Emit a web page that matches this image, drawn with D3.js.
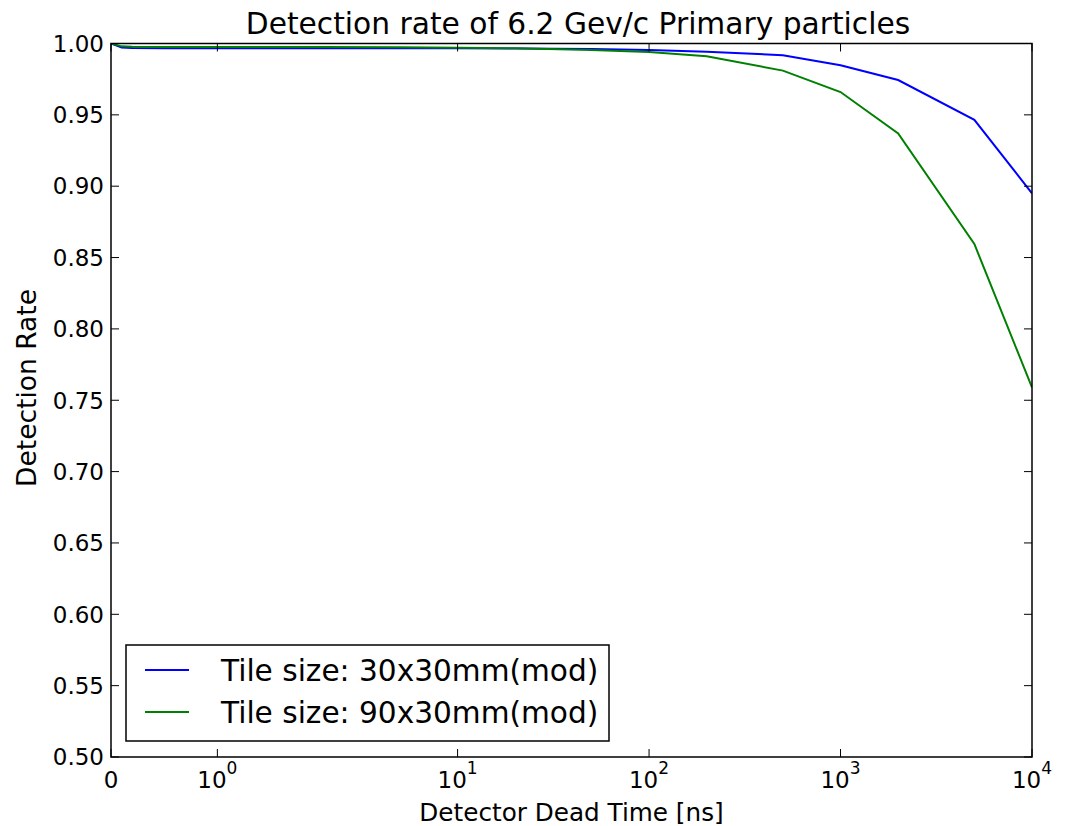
<!DOCTYPE html>
<html>
<head>
<meta charset="utf-8">
<script src="https://cdn.jsdelivr.net/npm/d3@7"></script>
<style>
  body { margin: 0; background: #fff; }
  text { font-family: "DejaVu Sans", sans-serif; fill: #000; }
</style>
</head>
<body>
<svg id="chart"></svg>
<script>
const width = 1067;
const height = 826;
const margin = { top: 43.5, right: 35, bottom: 69, left: 111 };

// dead time values [ns]
const deadTimes = [0, 0.1, 0.2, 0.5, 1, 2, 5, 10, 20, 50, 100, 200, 500, 1000, 2000, 5000, 10000];
const rate30x30 = [1.0, 0.9972, 0.9968, 0.9967, 0.9967, 0.9967, 0.9967, 0.9966, 0.9965, 0.9962, 0.9955, 0.9942, 0.9918, 0.9848, 0.9744, 0.9465, 0.895];
const rate90x30 = [1.0, 0.998, 0.9977, 0.9976, 0.9975, 0.9975, 0.9974, 0.9971, 0.9966, 0.9955, 0.9940, 0.9910, 0.9810, 0.9660, 0.9370, 0.8595, 0.759];
const seriesNames = ["Tile size: 30x30mm(mod)", "Tile size: 90x30mm(mod)"];
const seriesColors = ["#0000ff", "#008000"];
const xTickValues = [0, 1, 10, 100, 1000, 10000];
const yTickValues = d3.range(0.5, 1.0001, 0.05);

// matplotlib style symlog (linthresh 2, linscale 1)
const linthresh = 2;
const linscaleAdj = 1 / (1 - 1 / 10);
function symT(v) {
    if (v <= linthresh) return v * linscaleAdj;
    return linthresh * (linscaleAdj + Math.log10(v / linthresh));
}

const innerW = width - margin.left - margin.right;
const innerH = height - margin.top - margin.bottom;

const xLin = d3.scaleLinear()
    .domain([symT(0), symT(10000)])
    .range([margin.left, margin.left + innerW]);
const x = v => xLin(symT(v));

const y = d3.scaleLinear()
    .domain([0.5, 1.0])
    .range([margin.top + innerH, margin.top]);

const svg = d3.select("#chart")
    .attr("width", width)
    .attr("height", height);

const series = [rate30x30, rate90x30].map((vals, i) => ({
    name: seriesNames[i],
    color: seriesColors[i],
    points: deadTimes.map((t, j) => ({ t: t, v: vals[j] }))
}));

svg.append("defs").append("clipPath").attr("id", "clip")
    .append("rect")
    .attr("x", margin.left).attr("y", margin.top)
    .attr("width", innerW).attr("height", innerH);

const line = d3.line()
    .x(d => x(d.t))
    .y(d => y(d.v));

svg.append("g").attr("clip-path", "url(#clip)")
    .selectAll("path")
    .data(series)
    .enter().append("path")
    .attr("d", d => line(d.points))
    .attr("fill", "none")
    .attr("stroke", d => d.color)
    .attr("stroke-width", 2);

// ticks, inward on all four sides
const tickLen = 8;
const ticks = svg.append("g").attr("stroke", "#000").attr("stroke-width", 1);
xTickValues.forEach(v => {
    ticks.append("line").attr("x1", x(v)).attr("x2", x(v))
        .attr("y1", margin.top + innerH).attr("y2", margin.top + innerH - tickLen);
    ticks.append("line").attr("x1", x(v)).attr("x2", x(v))
        .attr("y1", margin.top).attr("y2", margin.top + tickLen);
});
yTickValues.forEach(v => {
    ticks.append("line").attr("x1", margin.left).attr("x2", margin.left + tickLen)
        .attr("y1", y(v)).attr("y2", y(v));
    ticks.append("line").attr("x1", margin.left + innerW).attr("x2", margin.left + innerW - tickLen)
        .attr("y1", y(v)).attr("y2", y(v));
});

// frame
svg.append("rect")
    .attr("x", margin.left).attr("y", margin.top)
    .attr("width", innerW).attr("height", innerH)
    .attr("fill", "none").attr("stroke", "#000").attr("stroke-width", 1.5);

// y tick labels
svg.append("g").selectAll("text")
    .data(yTickValues)
    .enter().append("text")
    .attr("x", margin.left - 7)
    .attr("y", d => y(d))
    .attr("dy", "0.36em")
    .attr("text-anchor", "end")
    .style("font-size", "23px")
    .text(d => d3.format(".2f")(d));

// x tick labels
const xl = svg.append("g").selectAll("text")
    .data(xTickValues)
    .enter().append("text")
    .attr("x", d => x(d))
    .attr("y", margin.top + innerH + 31)
    .attr("text-anchor", "middle")
    .style("font-size", "23px");
xl.each(function(d) {
    const t = d3.select(this);
    if (d === 0) { t.text("0"); return; }
    t.append("tspan").text("10");
    t.append("tspan").attr("dy", -14).style("font-size", "17px").text(Math.round(Math.log10(d)));
});

// axis labels and title
svg.append("text")
    .attr("x", margin.left + innerW / 2)
    .attr("y", 821)
    .attr("text-anchor", "middle")
    .style("font-size", "24.7px")
    .text("Detector Dead Time [ns]");

svg.append("text")
    .attr("transform", "translate(36,388) rotate(-90)")
    .attr("text-anchor", "middle")
    .style("font-size", "26.5px")
    .text("Detection Rate");

svg.append("text")
    .attr("x", 578)
    .attr("y", 34)
    .attr("text-anchor", "middle")
    .style("font-size", "29.7px")
    .text("Detection rate of 6.2 Gev/c Primary particles");

// legend
const legend = svg.append("g").attr("transform", "translate(126,645)");
legend.append("rect")
    .attr("width", 483).attr("height", 96)
    .attr("fill", "#fff").attr("stroke", "#000").attr("stroke-width", 1.5);
const items = legend.selectAll("g.item")
    .data(series)
    .enter().append("g")
    .attr("transform", (d, i) => `translate(0,${25 + i * 42})`);
items.append("line")
    .attr("x1", 19).attr("x2", 63)
    .attr("stroke", d => d.color).attr("stroke-width", 2);
items.append("text")
    .attr("x", 95)
    .attr("dy", "0.36em")
    .style("font-size", "29.6px")
    .text(d => d.name);
</script>
</body>
</html>
